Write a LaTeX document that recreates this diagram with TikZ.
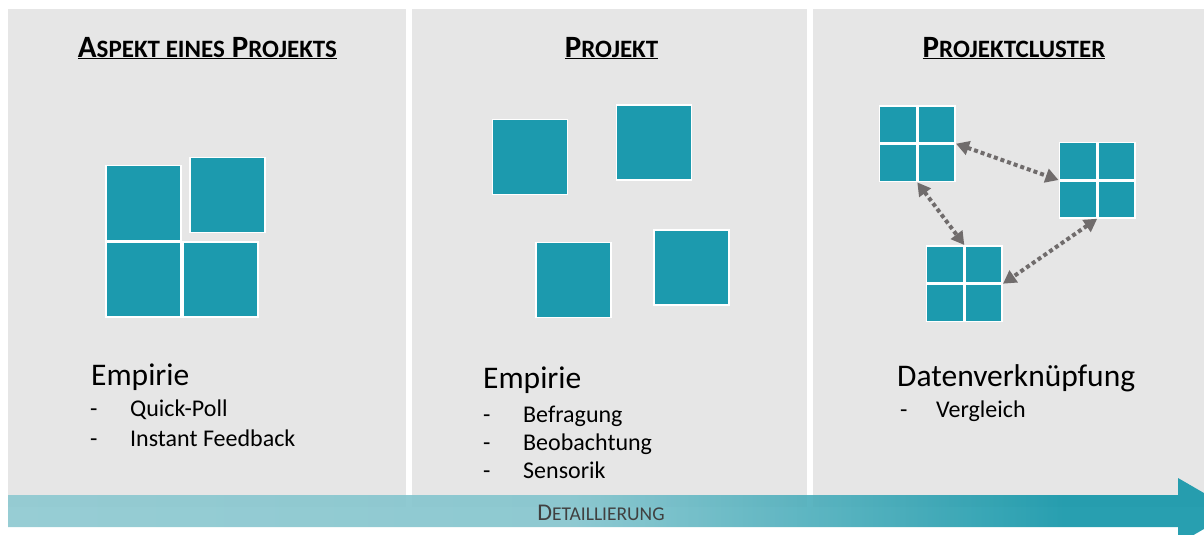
\documentclass[tikz,border=0pt]{standalone}
\usepackage{fontspec}
\setmainfont{Carlito}
\usetikzlibrary{matrix,arrows.meta}

\definecolor{kachel}{RGB}{28,154,174}
\definecolor{feld}{RGB}{230,230,230}
\definecolor{pfeilhell}{RGB}{143,201,209}
\definecolor{pfeildunkel}{RGB}{24,152,170}
\definecolor{verbgrau}{RGB}{112,108,108}
\definecolor{textgrau}{RGB}{64,64,64}

\pgfdeclarehorizontalshading{detailverlauf}{100bp}{color(0bp)=(pfeilhell); color(25bp)=(pfeilhell); color(48bp)=(pfeilhell!92!pfeildunkel); color(68bp)=(pfeildunkel); color(100bp)=(pfeildunkel)}

\newcommand{\klein}[1]{{\fontsize{25}{25}\selectfont #1}}
\newcommand{\kleinpfeil}[1]{{\fontsize{19.5}{19.5}\selectfont #1}}

\begin{document}
\begin{tikzpicture}[x=1pt, y=-1pt,
    quadrat/.style={fill=kachel, draw=white, line width=1.5pt, minimum size=75pt, inner sep=0pt},
    titel/.style={anchor=base, inner sep=0pt, font=\fontsize{31}{31}\selectfont\bfseries},
    kopf/.style={anchor=base west, inner sep=0pt, font=\fontsize{31.5}{31.5}\selectfont},
    eintrag/.style={anchor=base west, inner sep=0pt, font=\fontsize{24}{24}\selectfont},
    cluster/.style={matrix of nodes, nodes in empty cells, ampersand replacement=\&,
            inner sep=0pt, row sep=0pt, column sep=0pt,
            nodes={fill=kachel, draw=white, line width=1.5pt, minimum size=37pt, inner sep=0pt, outer sep=0pt}},
    verbindung/.style={draw=verbgrau, line width=4pt, dash pattern=on 4pt off 3pt,
            {Triangle[length=13pt,width=14pt]}-{Triangle[length=13pt,width=14pt]}}]
    \useasboundingbox (0,0) rectangle (1204,535);

    \fill[feld] (8,9) rectangle (406,507);
    \fill[feld] (412,9) rectangle (807,507);
    \fill[feld] (813,9) rectangle (1204,507);

    \node[titel] (t1) at (207.5,57) {\underline{A\klein{SPEKT EINES} P\klein{ROJEKTS}}};
    \node[titel] (t2) at (611.5,57) {\underline{P\klein{ROJEKT}}};
    \node[titel] (t3) at (1014,57) {\underline{P\klein{ROJEKTCLUSTER}}};

    \node[quadrat] (a1) at (143.5,203) {};
    \node[quadrat] (a2) at (227.5,195) {};
    \node[quadrat] (a3) at (143.5,279.7) {};
    \node[quadrat] (a4) at (220.3,279.7) {};

    \node[quadrat] (p1) at (530.2,156.9) {};
    \node[quadrat] (p2) at (653.9,142.3) {};
    \node[quadrat] (p3) at (573.7,280.2) {};
    \node[quadrat] (p4) at (691.3,267.3) {};

    \matrix (cl1) [cluster] at (917.3,143.7) { \& \\ \& \\ };
    \matrix (cl2) [cluster] at (1097.2,180) { \& \\ \& \\ };
    \matrix (cl3) [cluster] at (964.3,283.7) { \& \\ \& \\ };

    \draw[verbindung] (cl1.east) -- (cl2.west);
    \draw[verbindung] (cl1.south) -- (cl3.north);
    \draw[verbindung] (cl2.south) -- (cl3.east);

    \node[kopf] (k1) at (91,385) {Empirie};
    \node[eintrag] (e11) at (90,416.7) {\makebox[40pt][l]{-}Quick-Poll};
    \node[eintrag] (e12) at (90,446.7) {\makebox[40pt][l]{-}Instant Feedback};

    \node[kopf] (k2) at (483,388.3) {Empirie};
    \node[eintrag] (e21) at (483,422) {\makebox[40pt][l]{-}Befragung};
    \node[eintrag] (e22) at (483,450) {\makebox[40pt][l]{-}Beobachtung};
    \node[eintrag] (e23) at (483,478.3) {\makebox[40pt][l]{-}Sensorik};

    \node[kopf] (k3) at (897,386) {Datenverknüpfung};
    \node[eintrag] (e31) at (900,417.5) {\makebox[36pt][l]{-}Vergleich};

    \shade[shading=detailverlauf, fill opacity=0.93] (8,495) -- (1178,495) -- (1178,478) -- (1235,511)
        -- (1178,544) -- (1178,527) -- (8,527) -- cycle;
    \node[anchor=base, inner sep=0pt, text=textgrau, font=\fontsize{24}{24}\selectfont] (detail) at (601,520.5) {D\kleinpfeil{ETAILLIERUNG}};
\end{tikzpicture}
\end{document}
